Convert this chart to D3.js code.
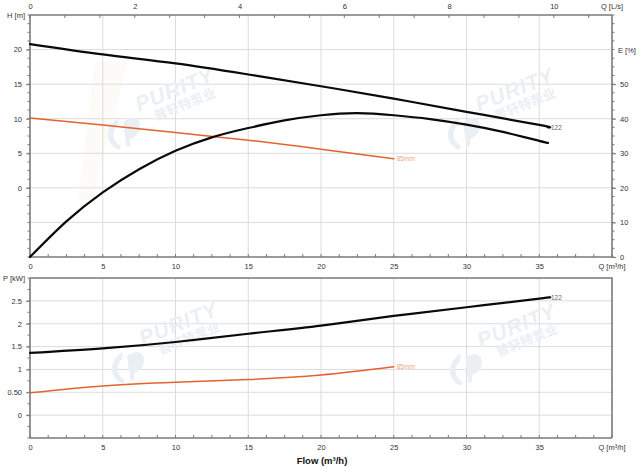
<!DOCTYPE html>
<html><head><meta charset="utf-8">
<script src="https://cdn.jsdelivr.net/npm/d3@7"></script>
<style>body{margin:0;background:#fff}svg{display:block;font-family:"Liberation Sans",Arial,sans-serif}</style>
</head><body><svg id="c" width="640" height="467"></svg>
<script>
// ---- data ----
const flowTicks = [0,5,10,15,20,25,30,35];
const lpsTicks = [0,2,4,6,8,10];
const headTicks = [0,5,10,15,20];
const effTicks = [0,10,20,30,40,50];
const powerTicks = [0,0.5,1,1.5,2,2.5];
const powerTickLabels = ["0","0.50","1","1.5","2","2.5"];

const flow122 = [0,5,10,15,20,25,30,35,35.6];
const head122 = [20.8,19.3,18.0,16.4,14.7,12.9,11.0,9.1,8.75];
const power122 = [1.36,1.46,1.60,1.78,1.96,2.17,2.36,2.55,2.57];

const effFlow122 = [0,2.5,5,7.5,10,12.5,15,17.5,20,22.5,25,27.5,30,32.5,35,35.6];
const eff122 = [0,10.3,18.7,25.4,30.7,34.6,37.3,39.5,41.0,41.6,41.0,39.9,38.3,36.2,33.6,33.0];

const flow85 = [0,5,10,15,20,25];
const head85 = [10.1,9.1,8.0,6.9,5.6,4.2];
const power85 = [0.49,0.64,0.72,0.78,0.88,1.06];

const label122 = "122", label85 = "85mm";

// ---- layout ----
const svg = d3.select("#c");
const L = 30, R = 612;
const T1 = 15, B1 = 257, T2 = 278, B2 = 438;
const x = d3.scaleLinear([0,40],[L,R]);
const xLps = d3.scaleLinear([0,40/3.6],[L,R]);
const yH = d3.scaleLinear([-10,25],[B1,T1]);
const yE = d3.scaleLinear([0,70],[B1,T1]);
const yP = d3.scaleLinear([-0.5,3],[B2,T2]);

const gridC = "#dcdcdc", axC = "#7a7a7a", txtC = "#333";
const BLACK = "#0a0a0a", ORANGE = "#e4622e";
const WM = "#eaeff4";

// watermarks
function watermark(cx, cy){
  const g = svg.append("g").attr("transform",`translate(${cx},${cy}) rotate(-22)`);
  g.append("text").attr("x",10).attr("y",0).attr("text-anchor","middle")
    .attr("font-size",21).attr("font-weight","bold").attr("font-style","italic")
    .attr("fill",WM).attr("letter-spacing",1).text("PURITY");
  g.append("text").attr("x",14).attr("y",15).attr("text-anchor","middle")
    .attr("font-family","Noto Sans CJK SC").attr("font-size",13).attr("font-weight","bold")
    .attr("fill",WM).text("普轩特泵业");
  const lg = g.append("g").attr("transform","translate(-58,14)");
  lg.append("path").attr("d","M-6,14 C-18,2 -10,-14 6,-16 L2,-9 C-7,-6 -9,4 -3,11 Z").attr("fill",WM);
  lg.append("path").attr("d","M2,14 L8,-10 C18,-14 26,-8 22,0 C20,6 14,8 8,8 L6,14 Z").attr("fill",WM);
}
svg.append("path").attr("d","M95,62 L128,60 L92,200 L78,200 Z").attr("fill","#fcfbf7");

// ---- top chart grid ----
const gTopGrid = svg.append("g");
flowTicks.filter(d=>d>0).forEach(d=>{
  gTopGrid.append("line").attr("x1",x(d)).attr("x2",x(d)).attr("y1",T1).attr("y2",B1).attr("stroke",gridC);
});
[-5,0,5,10,15,20].forEach(d=>{
  gTopGrid.append("line").attr("x1",L).attr("x2",R).attr("y1",yH(d)).attr("y2",yH(d)).attr("stroke",gridC);
});
// bottom grid
const gBotGrid = svg.append("g");
flowTicks.filter(d=>d>0).forEach(d=>{
  gBotGrid.append("line").attr("x1",x(d)).attr("x2",x(d)).attr("y1",T2).attr("y2",B2).attr("stroke",gridC);
});
powerTicks.forEach(d=>{
  gBotGrid.append("line").attr("x1",L).attr("x2",R).attr("y1",yP(d)).attr("y2",yP(d)).attr("stroke",gridC);
});

watermark(168,100); watermark(508,100); watermark(172,334); watermark(510,336);

// ---- axes ----
function styleAxis(g){
  g.selectAll(".domain").attr("stroke",axC).attr("stroke-width",1.6);
  g.selectAll(".tick line").attr("stroke",axC);
  g.selectAll("text").attr("fill",txtC).attr("font-size",7.5).attr("font-family","Liberation Sans, Arial, sans-serif");
}
function minor(g, scale, step, lo, hi, orient, len){
  const vals = d3.range(lo, hi+1e-9, step);
  vals.forEach(v=>{
    const p = scale(v);
    if(orient==="x") g.append("line").attr("x1",p).attr("x2",p).attr("y1",0).attr("y2",len).attr("stroke",axC);
    else g.append("line").attr("x1",0).attr("x2",len).attr("y1",p).attr("y2",p).attr("stroke",axC);
  });
}
// top L/s axis
const gTop = svg.append("g").attr("transform",`translate(0,${T1})`)
  .call(d3.axisTop(xLps).tickValues(lpsTicks).tickSize(0).tickPadding(6).tickSizeOuter(0));
styleAxis(gTop);
minor(gTop, xLps, 2/3, 0, 10.7, "x", 3);
gTop.select(".domain").attr("d",`M${L},0H${R}`);
svg.append("text").attr("x",R).attr("y",T1-6).attr("text-anchor","middle").attr("font-size",7.5).attr("fill",txtC).text("Q [L/s]");

// top chart bottom flow axis
const gB1 = svg.append("g").attr("transform",`translate(0,${B1})`)
  .call(d3.axisBottom(x).tickValues(flowTicks).tickSize(0).tickPadding(7).tickSizeOuter(0));
styleAxis(gB1);
minor(gB1, x, 1.25, 0, 40, "x", -3);
gB1.select(".domain").attr("d",`M${L},0H${R}`);
svg.append("text").attr("x",R).attr("y",B1+12).attr("text-anchor","middle").attr("font-size",7.5).attr("fill",txtC).text("Q [m³/h]");

// left H axis
const gH = svg.append("g").attr("transform",`translate(${L},0)`)
  .call(d3.axisLeft(yH).tickValues(headTicks).tickSize(4).tickPadding(4).tickSizeOuter(0));
styleAxis(gH);
minor(gH, yH, 1.25, -10, 25, "y", -2.5);
gH.select(".domain").attr("d",`M0,${T1}V${B1}`);
svg.append("text").attr("x",L-5).attr("y",T1+3).attr("text-anchor","end").attr("font-size",7.5).attr("fill",txtC).text("H [m]");

// right E axis
const gE = svg.append("g").attr("transform",`translate(${R},0)`)
  .call(d3.axisRight(yE).tickValues(effTicks).tickSize(4).tickPadding(4).tickSizeOuter(0));
styleAxis(gE);
minor(gE, yE, 2.5, 0, 70, "y", 2.5);
gE.select(".domain").attr("d",`M0,${T1}V${B1}`);
svg.append("text").attr("x",R+6).attr("y",yE(60)+3).attr("font-size",7.5).attr("fill",txtC).text("E [%]");

// bottom chart
const gB2 = svg.append("g").attr("transform",`translate(0,${B2})`)
  .call(d3.axisBottom(x).tickValues(flowTicks).tickSize(0).tickPadding(7).tickSizeOuter(0));
styleAxis(gB2);
minor(gB2, x, 1.25, 0, 40, "x", -3);
gB2.select(".domain").attr("d",`M${L},0H${R}`);
svg.append("text").attr("x",R).attr("y",B2+12).attr("text-anchor","middle").attr("font-size",7.5).attr("fill",txtC).text("Q [m³/h]");

const gP = svg.append("g").attr("transform",`translate(${L},0)`)
  .call(d3.axisLeft(yP).tickValues(powerTicks).tickFormat((d,i)=>powerTickLabels[i]).tickSize(4).tickPadding(4).tickSizeOuter(0));
styleAxis(gP);
minor(gP, yP, 0.25, -0.5, 3, "y", -2.5);
gP.select(".domain").attr("d",`M0,${T2}V${B2}`);
svg.append("text").attr("x",L-5).attr("y",T2+3).attr("text-anchor","end").attr("font-size",7.5).attr("fill",txtC).text("P [kW]");
// top & right border of bottom chart
svg.append("path").attr("d",`M${L},${T2}H${R}V${B2}`).attr("fill","none").attr("stroke",axC).attr("stroke-width",1.6);

svg.append("text").attr("x",322).attr("y",464).attr("text-anchor","middle").attr("font-size",9.5).attr("font-weight","bold").attr("fill","#111").text("Flow (m³/h)");

// ---- curves ----
function curve(xs, ys, ysc, color, w){
  const line = d3.line().x((d,i)=>x(xs[i])).y(d=>ysc(d)).curve(d3.curveNatural);
  svg.append("path").datum(ys).attr("d",line).attr("fill","none").attr("stroke",color).attr("stroke-width",w).attr("stroke-linecap","round");
}
curve(flow85, head85, yH, ORANGE, 1.5);
curve(flow122, head122, yH, BLACK, 2.2);
curve(effFlow122, eff122, yE, BLACK, 2.2);
curve(flow85, power85, yP, ORANGE, 1.5);
curve(flow122, power122, yP, BLACK, 2.2);

function endLabel(xv, yv, text, color){
  svg.append("text").attr("x",x(xv)+3).attr("y",yv+2.5).attr("font-size",6.5).attr("fill",color).text(text);
}
endLabel(flow122[flow122.length-1], yH(head122[head122.length-1]), label122, "#666");
endLabel(flow85[flow85.length-1], yH(head85[head85.length-1]), label85, "#f0a585");
endLabel(flow122[flow122.length-1], yP(power122[power122.length-1]), label122, "#666");
endLabel(flow85[flow85.length-1], yP(power85[power85.length-1]), label85, "#f0a585");
</script></body></html>
